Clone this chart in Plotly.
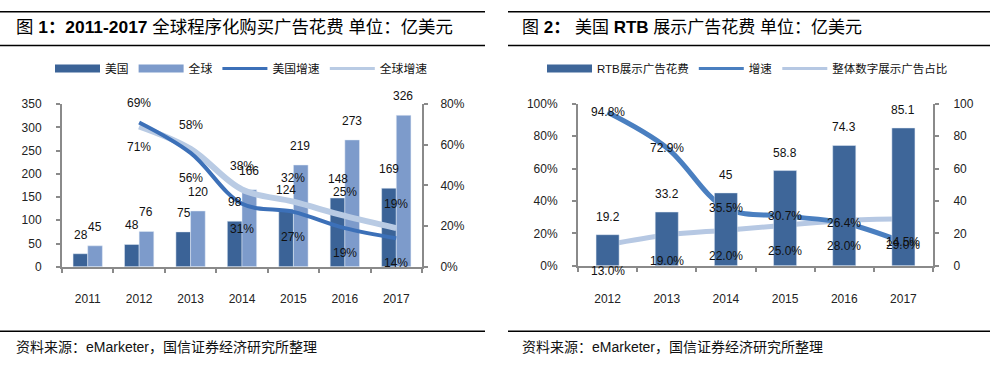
import plotly.graph_objects as go

W, H = 992, 368

# ---------------- data ----------------
years1 = ["2011", "2012", "2013", "2014", "2015", "2016", "2017"]
us_spend = [28, 48, 75, 98, 124, 148, 169]
global_spend = [45, 76, 120, 166, 219, 273, 326]
growth_years1 = ["2012", "2013", "2014", "2015", "2016", "2017"]
us_growth = [0.71, 0.56, 0.31, 0.27, 0.19, 0.14]
global_growth = [0.69, 0.58, 0.38, 0.32, 0.25, 0.19]

years2 = ["2012", "2013", "2014", "2015", "2016", "2017"]
rtb_spend = [19.2, 33.2, 45, 58.8, 74.3, 85.1]
rtb_growth = [0.948, 0.729, 0.355, 0.307, 0.264, 0.145]
display_share = [0.13, 0.19, 0.22, 0.25, 0.28, 0.29]

left_ticks1 = [0, 50, 100, 150, 200, 250, 300, 350]
right_ticks1 = [0, 0.2, 0.4, 0.6, 0.8]
left_ticks2 = [0, 0.2, 0.4, 0.6, 0.8, 1.0]
right_ticks2 = [0, 20, 40, 60, 80, 100]

# ---------------- styles ----------------
C_US = "#3b6397"
C_GL = "#7d9bcb"
C_USL = "#3c70b8"
C_GLL = "#b9cbe4"
C_RTB = "#3e6699"
C_GR = "#4a7fc0"
C_SH = "#b6c8e3"
AX = "#8a8a8a"
FONT = "Arial, Liberation Sans, Noto Sans CJK SC, sans-serif"
TXT = "#111111"

def px(x):
    return x / W

def py(y):
    return 1 - y / H

fig = go.Figure()

# ---- chart 1 bars ----
fig.add_trace(go.Bar(x=years1, y=us_spend, marker_color=C_US, xaxis="x", yaxis="y",
                     showlegend=False, offsetgroup="a"))
fig.add_trace(go.Bar(x=years1, y=global_spend, marker_color=C_GL, xaxis="x", yaxis="y",
                     showlegend=False, offsetgroup="b"))
# ---- chart 1 lines ----
fig.add_trace(go.Scatter(x=growth_years1, y=global_growth, mode="lines", xaxis="x", yaxis="y2",
                         line=dict(color=C_GLL, width=6, shape="spline", smoothing=1.0),
                         showlegend=False))
fig.add_trace(go.Scatter(x=growth_years1, y=us_growth, mode="lines", xaxis="x", yaxis="y2",
                         line=dict(color=C_USL, width=4, shape="spline", smoothing=1.0),
                         showlegend=False))

# ---- chart 2 ----
fig.add_trace(go.Bar(x=years2, y=rtb_spend, marker_color=C_RTB, xaxis="x2", yaxis="y4",
                     width=0.39, showlegend=False))
fig.add_trace(go.Scatter(x=years2, y=display_share, mode="lines", xaxis="x2", yaxis="y3",
                         line=dict(color=C_SH, width=5, shape="spline", smoothing=1.0),
                         showlegend=False))
fig.add_trace(go.Scatter(x=years2, y=rtb_growth, mode="lines", xaxis="x2", yaxis="y3",
                         line=dict(color=C_GR, width=5, shape="spline", smoothing=1.0),
                         showlegend=False))

# ---- legend entries ----
def leg(name, color, width, legend, xa, ya):
    fig.add_trace(go.Scatter(x=[None], y=[None], mode="lines", name=name,
                             line=dict(color=color, width=width),
                             legend=legend, xaxis=xa, yaxis=ya, showlegend=True))

leg("美国", C_US, 8, "legend", "x", "y")
leg("全球", C_GL, 8, "legend", "x", "y")
leg("美国增速", C_USL, 3, "legend", "x", "y")
leg("全球增速", C_GLL, 3, "legend", "x", "y")
leg("RTB展示广告花费", C_RTB, 8, "legend2", "x2", "y4")
leg("增速", C_GR, 3, "legend2", "x2", "y4")
leg("整体数字展示广告占比", C_SH, 3, "legend2", "x2", "y4")

# ---- data labels (x given as category index on the category axes) ----
idx1 = {c: i for i, c in enumerate(years1)}
idx2 = {c: i for i, c in enumerate(years2)}
ann = []
lab_font = dict(family=FONT, size=12, color=TXT)
for xv, v in zip(years1, us_spend):
    ann.append(dict(x=idx1[xv], y=v, xref="x", yref="y", text=str(v), showarrow=False,
                    xshift=-7, yshift=19, font=lab_font))
for xv, v in zip(years1, global_spend):
    ann.append(dict(x=idx1[xv], y=v, xref="x", yref="y", text=str(v), showarrow=False,
                    xshift=7, yshift=19, font=lab_font))
for xv, v in zip(growth_years1, global_growth):
    ann.append(dict(x=idx1[xv], y=v, xref="x", yref="y2", text=f"{v*100:.0f}%", showarrow=False,
                    yshift=24, font=lab_font))
for xv, v in zip(growth_years1, us_growth):
    ann.append(dict(x=idx1[xv], y=v, xref="x", yref="y2", text=f"{v*100:.0f}%", showarrow=False,
                    yshift=-25, font=lab_font))
for xv, v in zip(years2, rtb_spend):
    ann.append(dict(x=idx2[xv], y=v, xref="x2", yref="y4", text=f"{v:g}", showarrow=False,
                    yshift=18, font=lab_font))
for xv, v in zip(years2, rtb_growth):
    ann.append(dict(x=idx2[xv], y=v, xref="x2", yref="y3", text=f"{v*100:.1f}%", showarrow=False,
                    yshift=0, font=lab_font))
for xv, v in zip(years2, display_share):
    ann.append(dict(x=idx2[xv], y=v, xref="x2", yref="y3", text=f"{v*100:.1f}%", showarrow=False,
                    yshift=-26, font=lab_font))

# ---- titles & sources ----
ann.append(dict(x=px(14), y=py(21), xref="paper", yref="paper", xanchor="left", yanchor="middle",
                showarrow=False, font=dict(family=FONT, size=17.4, color="#000000"),
                text="图 <b>1：2011-2017</b> 全球程序化购买广告花费 单位：亿美元"))
ann.append(dict(x=px(520), y=py(21), xref="paper", yref="paper", xanchor="left", yanchor="middle",
                showarrow=False, font=dict(family=FONT, size=17, color="#000000"),
                text="图 <b>2：</b> 美国 <b>RTB</b> 展示广告花费 单位：亿美元"))
src_font = dict(family=FONT, size=14, color="#111111")
ann.append(dict(x=px(14), y=py(353), xref="paper", yref="paper", xanchor="left", yanchor="middle",
                showarrow=False, font=src_font, text="资料来源：eMarketer，国信证券经济研究所整理"))
ann.append(dict(x=px(520), y=py(353), xref="paper", yref="paper", xanchor="left", yanchor="middle",
                showarrow=False, font=src_font, text="资料来源：eMarketer，国信证券经济研究所整理"))

shapes = []
for (x0, x1) in [(0, 485), (508, 990)]:
    for yy in (5, 40, 337):
        shapes.append(dict(type="line", xref="paper", yref="paper", x0=px(x0), x1=px(x1),
                           y0=py(yy), y1=py(yy), line=dict(color="#000000", width=1.5)))

tick_font = dict(family=FONT, size=12, color="#222222")
axis_common = dict(showline=True, linecolor=AX, linewidth=2, ticks="outside", ticklen=4,
                   tickcolor=AX, tickwidth=1.5, showgrid=False, zeroline=False,
                   tickfont=tick_font, fixedrange=True)

fig.update_layout(
    width=W, height=H,
    margin=dict(l=0, r=0, t=0, b=0),
    paper_bgcolor="white", plot_bgcolor="rgba(0,0,0,0)",
    barmode="group", bargap=0.43, bargroupgap=0,
    xaxis=dict(domain=[px(62), px(422)], anchor="y", type="category",
               categoryorder="array", categoryarray=years1, tickson="boundaries",
               range=[-0.5, len(years1) - 0.5], ticklabelstandoff=20, **axis_common),
    yaxis=dict(domain=[py(270), py(101)], anchor="x", range=[0, 350], tickvals=left_ticks1,
               ticklabelstandoff=12, **axis_common),
    yaxis2=dict(overlaying="y", side="right", anchor="x", range=[0, 0.8], tickvals=right_ticks1,
                tickformat=".0%", ticklabelstandoff=10, **axis_common),
    xaxis2=dict(domain=[px(578), px(933)], anchor="y3", type="category",
                categoryorder="array", categoryarray=years2, tickson="boundaries",
                range=[-0.5, len(years2) - 0.5], ticklabelstandoff=21, **axis_common),
    yaxis3=dict(domain=[py(269), py(100.7)], anchor="x2", range=[0, 1.0], tickvals=left_ticks2,
                tickformat=".0%", ticklabelstandoff=12, **axis_common),
    yaxis4=dict(overlaying="y3", side="right", anchor="x2", range=[0, 100], tickvals=right_ticks2,
                ticklabelstandoff=12, **axis_common),
    legend=dict(orientation="h", x=px(50), y=py(64), xanchor="left", yanchor="middle",
                font=dict(family=FONT, size=11.8, color="#111111"), bgcolor="rgba(0,0,0,0)",
                itemwidth=45, traceorder="normal"),
    legend2=dict(orientation="h", x=px(542), y=py(64), xanchor="left", yanchor="middle",
                 font=dict(family=FONT, size=11.5, color="#111111"), bgcolor="rgba(0,0,0,0)",
                 itemwidth=45, traceorder="normal"),
    annotations=ann,
    shapes=shapes,
)

fig.write_html("out.html",
               config={"displayModeBar": False},
               post_script="document.body.style.margin='0';"
                           "document.documentElement.style.overflow='hidden';")
